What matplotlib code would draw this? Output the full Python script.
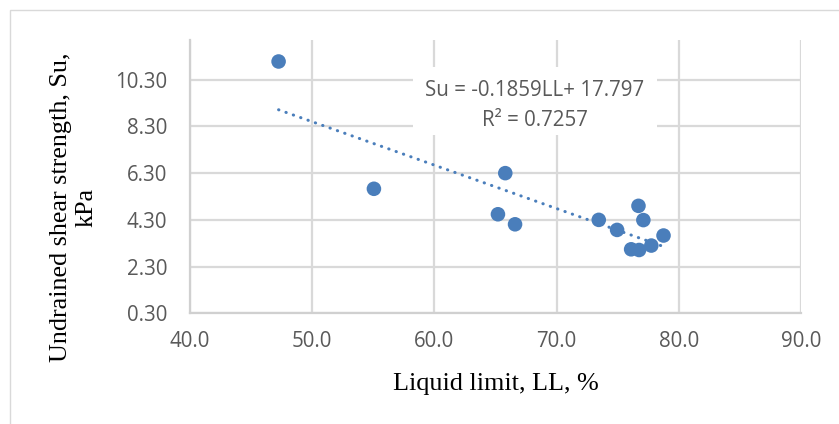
import matplotlib
matplotlib.use("Agg")
import matplotlib.pyplot as plt
import numpy as np
from matplotlib.patches import Rectangle

# Data
liquid_limit = [47.25, 55.05, 65.8, 65.2, 66.6, 73.45, 74.95, 76.7, 77.1, 76.1, 76.75, 77.75, 78.75]
shear_strength = [11.08, 5.63, 6.30, 4.54, 4.11, 4.30, 3.87, 4.90, 4.29, 3.04, 3.01, 3.20, 3.63]
trend_slope = -0.1859
trend_intercept = 17.797
equation_lines = ["Su = -0.1859LL+ 17.797", "R² = 0.7257"]
x_ticks = [40.0, 50.0, 60.0, 70.0, 80.0, 90.0]
y_ticks = [0.30, 2.30, 4.30, 6.30, 8.30, 10.30]

W, H = 839, 424
fig = plt.figure(figsize=(W / 100, H / 100), dpi=100)
fig.patch.set_facecolor("white")

# outer chart border
fig.add_artist(Rectangle((10 / W, -0.1), 1.2, 1 - 10 / H + 0.1, transform=fig.transFigure,
                         fill=False, edgecolor="#D9D9D9", linewidth=1.0))

ax = fig.add_axes([190 / W, 1 - 313.3 / H, (801 - 190) / W, (313.3 - 40) / H])
ax.set_xlim(40, 90)
ax.set_ylim(0.30, 12.0)
ax.set_xticks(x_ticks)
ax.set_yticks(y_ticks)
ax.set_xticklabels([f"{v:.1f}" for v in x_ticks])
ax.set_yticklabels([f"{v:.2f}" for v in y_ticks])

for lab in ax.get_xticklabels() + ax.get_yticklabels():
    lab.set_fontfamily("Open Sans")
    lab.set_fontsize(14.8)
    lab.set_color("#595959")
ax.tick_params(axis="both", length=0)
ax.tick_params(axis="y", pad=16.5)
ax.tick_params(axis="x", pad=13)

ax.grid(True, color="#D9D9D9", linewidth=1.6, zorder=0)
ax.set_axisbelow(True)
for s in ["top", "right"]:
    ax.spines[s].set_visible(False)
for s in ["left", "bottom"]:
    ax.spines[s].set_color("#D0D0D0")
    ax.spines[s].set_linewidth(1.6)

color = "#4A7EBB"
ax.scatter(liquid_limit, shear_strength, s=110, color=color, edgecolors="none", zorder=3, clip_on=False)

xt = np.array([min(liquid_limit), max(liquid_limit)])
yt = trend_slope * xt + trend_intercept
ax.plot(xt, yt, color=color, linewidth=2.2, linestyle=(0, (0.1, 2.45)),
        dash_capstyle="round", zorder=4)

# equation label with white background
fig.add_artist(Rectangle((413 / W, 1 - 135 / H), (657 - 413) / W, (135 - 67) / H,
                         transform=fig.transFigure, facecolor="white", edgecolor="none", zorder=5))
for i, line in enumerate(equation_lines):
    fig.text(535 / W, 1 - (90 + 30 * i) / H, line, ha="center", va="center",
             fontfamily="Open Sans", fontsize=14.8, color="#595959", zorder=6)

# axis titles
fig.text(495.5 / W, 1 - 384 / H, "Liquid limit, LL, %", ha="center", va="center",
         fontfamily="Liberation Serif", fontsize=18.8, color="black")
fig.text(74 / W, 1 - 207 / H, "Undrained shear strength, Su,\nkPa", ha="center", va="center",
         rotation=90, fontfamily="Liberation Serif", fontsize=18.8, color="black",
         linespacing=1.2, multialignment="center")

fig.savefig("out.png", dpi=100, facecolor="white")
